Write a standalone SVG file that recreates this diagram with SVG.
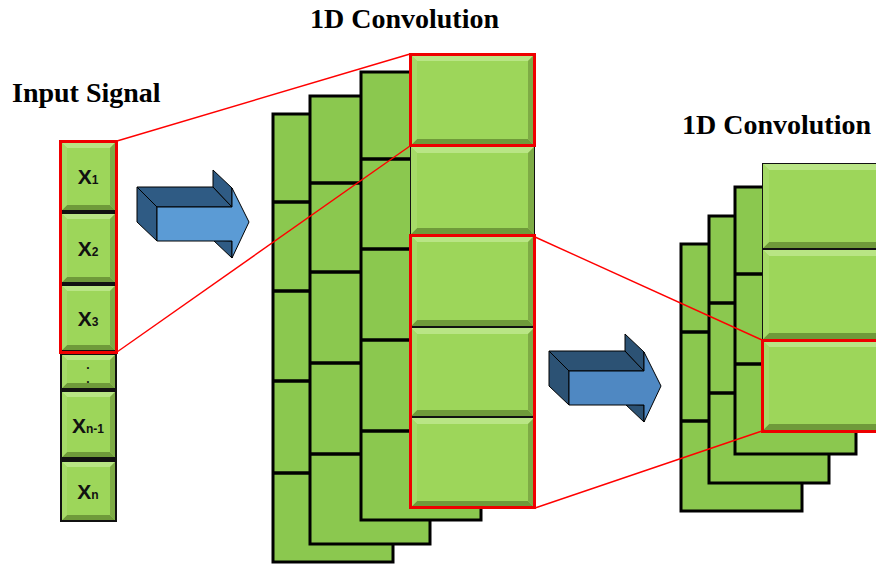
<svg xmlns="http://www.w3.org/2000/svg" width="876" height="565" viewBox="0 0 876 565">
  <style>
    .title { font-family: "Liberation Serif", "Times New Roman", serif; font-weight: bold; font-size: 28px; fill: #000; }
    .lbl { font-family: "Liberation Sans", Arial, sans-serif; font-weight: bold; font-size: 21px; fill: #111; text-anchor: middle; }
    .sub { font-size: 12px; }
    .sheet { fill: #8bc84f; stroke: #000; stroke-width: 3; }
    .div { stroke: #000; stroke-width: 3.5; }
    .face { fill: #9dd65a; }
    .bt { fill: #b9e585; }
    .bl { fill: #a6db68; }
    .br { fill: #7eab45; }
    .bb { fill: #6f9a3a; }
    .hl { fill: none; stroke: #ee0000; stroke-width: 3; }
    .link { stroke: #ff0000; stroke-width: 1.4; fill: none; }
    .a1f { fill: #5b9bd5; stroke: #000; stroke-width: 1; stroke-linejoin: round; }
    .a1d { fill: #2f5b84; stroke: #000; stroke-width: 1; stroke-linejoin: round; }
    .a2f { fill: #4f88c2; stroke: #000; stroke-width: 1; stroke-linejoin: round; }
    .a2d { fill: #2c5274; stroke: #000; stroke-width: 1; stroke-linejoin: round; }
  </style>
  <rect width="876" height="565" fill="#fff"/>

  <!-- titles -->
  <text class="title" x="12" y="102">Input Signal</text>
  <text class="title" x="310" y="28">1D Convolution</text>
  <text class="title" x="682" y="134">1D Convolution</text>

  <!-- input signal column -->
  <g id="input">
    <rect x="60" y="141" width="57" height="381" fill="#111"/>
    <g id="x1">
      <rect class="face" x="62" y="143" width="53" height="67"/>
      <polygon class="bt" points="62,143 115,143 110,148 67,148"/>
      <polygon class="bb" points="62,210 115,210 110,205 67,205"/>
      <polygon class="bl" points="62,143 67,148 67,205 62,210"/>
      <polygon class="br" points="115,143 110,148 110,205 115,210"/>
      <text class="lbl" x="88" y="184">X<tspan class="sub">1</tspan></text>
    </g>
    <g id="x2">
      <rect class="face" x="62" y="214" width="53" height="68"/>
      <polygon class="bt" points="62,214 115,214 110,219 67,219"/>
      <polygon class="bb" points="62,282 115,282 110,277 67,277"/>
      <polygon class="bl" points="62,214 67,219 67,277 62,282"/>
      <polygon class="br" points="115,214 110,219 110,277 115,282"/>
      <text class="lbl" x="88" y="256">X<tspan class="sub">2</tspan></text>
    </g>
    <g id="x3">
      <rect class="face" x="62" y="286" width="53" height="64"/>
      <polygon class="bt" points="62,286 115,286 110,291 67,291"/>
      <polygon class="bb" points="62,350 115,350 110,345 67,345"/>
      <polygon class="bl" points="62,286 67,291 67,345 62,350"/>
      <polygon class="br" points="115,286 110,291 110,345 115,350"/>
      <text class="lbl" x="88" y="326">X<tspan class="sub">3</tspan></text>
    </g>
    <g id="xdots">
      <rect class="face" x="62" y="355" width="53" height="33"/>
      <polygon class="bt" points="62,355 115,355 110,360 67,360"/>
      <polygon class="bb" points="62,388 115,388 110,383 67,383"/>
      <polygon class="bl" points="62,355 67,360 67,383 62,388"/>
      <polygon class="br" points="115,355 110,360 110,383 115,388"/>
      <text class="lbl sub" x="88" y="369">.</text>
      <text class="lbl sub" x="88" y="383">.</text>
    </g>
    <g id="xn1">
      <rect class="face" x="62" y="392" width="53" height="65"/>
      <polygon class="bt" points="62,392 115,392 110,397 67,397"/>
      <polygon class="bb" points="62,457 115,457 110,452 67,452"/>
      <polygon class="bl" points="62,392 67,397 67,452 62,457"/>
      <polygon class="br" points="115,392 110,397 110,452 115,457"/>
      <text class="lbl" x="88" y="433">X<tspan class="sub">n-1</tspan></text>
    </g>
    <g id="xn">
      <rect class="face" x="62" y="462" width="53" height="58"/>
      <polygon class="bt" points="62,462 115,462 110,467 67,467"/>
      <polygon class="bb" points="62,520 115,520 110,515 67,515"/>
      <polygon class="bl" points="62,462 67,467 67,515 62,520"/>
      <polygon class="br" points="115,462 110,467 110,515 115,520"/>
      <text class="lbl" x="88" y="499">X<tspan class="sub">n</tspan></text>
    </g>
    <rect class="hl" x="60.5" y="141.5" width="56" height="211"/>
  </g>

  <!-- first convolution: stacked feature maps -->
  <g id="conv1">
    <g id="conv1-sheet1">
      <rect class="sheet" x="273" y="114" width="120" height="448"/>
      <line class="div" x1="273" y1="202" x2="393" y2="202"/>
      <line class="div" x1="273" y1="291" x2="393" y2="291"/>
      <line class="div" x1="273" y1="381" x2="393" y2="381"/>
      <line class="div" x1="273" y1="473" x2="393" y2="473"/>
    </g>
    <g id="conv1-sheet2">
      <rect class="sheet" x="310" y="96" width="120" height="448"/>
      <line class="div" x1="310" y1="183" x2="430" y2="183"/>
      <line class="div" x1="310" y1="272" x2="430" y2="272"/>
      <line class="div" x1="310" y1="363" x2="430" y2="363"/>
      <line class="div" x1="310" y1="454" x2="430" y2="454"/>
    </g>
    <g id="conv1-sheet3">
      <rect class="sheet" x="361" y="72" width="120" height="448"/>
      <line class="div" x1="361" y1="159" x2="481" y2="159"/>
      <line class="div" x1="361" y1="249" x2="481" y2="249"/>
      <line class="div" x1="361" y1="340" x2="481" y2="340"/>
      <line class="div" x1="361" y1="431" x2="481" y2="431"/>
    </g>
    <g id="conv1-front">
      <rect x="410" y="54" width="125" height="454" fill="#111"/>
      <rect class="face" x="411" y="55" width="123" height="90"/>
      <polygon class="bt" points="411,55 534,55 528,61 417,61"/>
      <polygon class="bb" points="411,145 534,145 528,139 417,139"/>
      <polygon class="bl" points="411,55 417,61 417,139 411,145"/>
      <polygon class="br" points="534,55 528,61 528,139 534,145"/>

      <rect class="face" x="411" y="147" width="123" height="87"/>
      <polygon class="bt" points="411,147 534,147 528,153 417,153"/>
      <polygon class="bb" points="411,234 534,234 528,228 417,228"/>
      <polygon class="bl" points="411,147 417,153 417,228 411,234"/>
      <polygon class="br" points="534,147 528,153 528,228 534,234"/>

      <rect class="face" x="411" y="236" width="123" height="90"/>
      <polygon class="bt" points="411,236 534,236 528,242 417,242"/>
      <polygon class="bb" points="411,326 534,326 528,320 417,320"/>
      <polygon class="bl" points="411,236 417,242 417,320 411,326"/>
      <polygon class="br" points="534,236 528,242 528,320 534,326"/>

      <rect class="face" x="411" y="328" width="123" height="88"/>
      <polygon class="bt" points="411,328 534,328 528,334 417,334"/>
      <polygon class="bb" points="411,416 534,416 528,410 417,410"/>
      <polygon class="bl" points="411,328 417,334 417,410 411,416"/>
      <polygon class="br" points="534,328 528,334 528,410 534,416"/>

      <rect class="face" x="411" y="418" width="123" height="89"/>
      <polygon class="bt" points="411,418 534,418 528,424 417,424"/>
      <polygon class="bb" points="411,507 534,507 528,501 417,501"/>
      <polygon class="bl" points="411,418 417,424 417,501 411,507"/>
      <polygon class="br" points="534,418 528,424 528,501 534,507"/>

      <rect class="hl" x="410.5" y="54.5" width="124" height="91"/>
      <rect class="hl" x="410.5" y="235.5" width="124" height="272"/>
    </g>
  </g>

  <!-- second convolution: stacked feature maps -->
  <g id="conv2">
    <g id="conv2-sheet1">
      <rect class="sheet" x="681" y="244" width="121" height="267"/>
      <line class="div" x1="681" y1="332" x2="802" y2="332"/>
      <line class="div" x1="681" y1="421" x2="802" y2="421"/>
    </g>
    <g id="conv2-sheet2">
      <rect class="sheet" x="709" y="216" width="120" height="267"/>
      <line class="div" x1="709" y1="303" x2="829" y2="303"/>
      <line class="div" x1="709" y1="393" x2="829" y2="393"/>
    </g>
    <g id="conv2-sheet3">
      <rect class="sheet" x="735" y="187" width="121" height="267"/>
      <line class="div" x1="735" y1="274" x2="856" y2="274"/>
      <line class="div" x1="735" y1="364" x2="856" y2="364"/>
    </g>
    <g id="conv2-front">
      <rect x="762" y="163" width="122" height="268" fill="#111"/>
      <rect class="face" x="763" y="164" width="121" height="84"/>
      <polygon class="bt" points="763,164 884,164 878,170 769,170"/>
      <polygon class="bb" points="763,248 884,248 878,242 769,242"/>
      <polygon class="bl" points="763,164 769,170 769,242 763,248"/>

      <rect class="face" x="763" y="250" width="121" height="89"/>
      <polygon class="bt" points="763,250 884,250 878,256 769,256"/>
      <polygon class="bb" points="763,339 884,339 878,333 769,333"/>
      <polygon class="bl" points="763,250 769,256 769,333 763,339"/>

      <rect class="face" x="763" y="341" width="121" height="89"/>
      <polygon class="bt" points="763,341 884,341 878,347 769,347"/>
      <polygon class="bb" points="763,430 884,430 878,424 769,424"/>
      <polygon class="bl" points="763,341 769,347 769,424 763,430"/>

      <rect class="hl" x="762.5" y="340.5" width="122" height="91"/>
    </g>
  </g>

  <!-- block arrows -->
  <g id="arrow1">
    <polygon class="a1d" points="137,187 213,187 232,207 157,207"/>
    <polygon class="a1d" points="213,170 232,188 232,207 213,187"/>
    <polygon class="a1d" points="137,187 157,207 157,241 137,222"/>
    <polygon class="a1d" points="213,240 232,241 232,258"/>
    <polygon class="a1f" points="157,207 232,207 232,188 249,222 232,258 232,241 157,241"/>
  </g>
  <g id="arrow2" transform="translate(412,164)">
    <polygon class="a2d" points="137,187 213,187 232,207 157,207"/>
    <polygon class="a2d" points="213,170 232,188 232,207 213,187"/>
    <polygon class="a2d" points="137,187 157,207 157,241 137,222"/>
    <polygon class="a2d" points="213,240 232,241 232,258"/>
    <polygon class="a2f" points="157,207 232,207 232,188 249,222 232,258 232,241 157,241"/>
  </g>

  <!-- receptive-field connectors -->
  <g id="connectors">
    <line class="link" x1="117" y1="141" x2="410" y2="54"/>
    <line class="link" x1="117" y1="352" x2="410" y2="146"/>
    <line class="link" x1="535" y1="237" x2="762" y2="340"/>
    <line class="link" x1="535" y1="508" x2="762" y2="431"/>
  </g>
</svg>
